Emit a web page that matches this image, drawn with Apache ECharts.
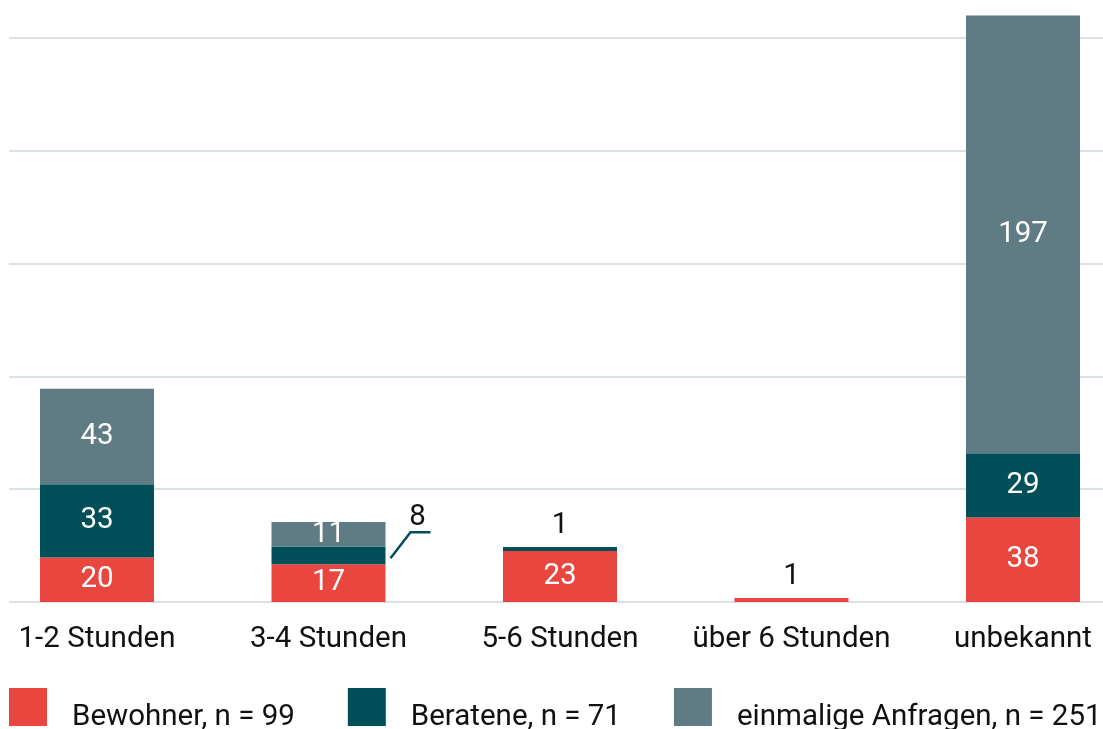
<!DOCTYPE html>
<html lang="de">
<head>
  <meta charset="UTF-8">
  <title>Stunden</title>
  <script src="https://cdn.jsdelivr.net/npm/echarts@6/dist/echarts.min.js"></script>
  <style>
    html, body { margin: 0; padding: 0; background: #fff; }
    #chart { width: 1103px; height: 729px; }
  </style>
</head>
<body>
  <div id="chart"></div>
  <script>
    // Daten
    const categories = ['1-2 Stunden', '3-4 Stunden', '5-6 Stunden', 'über 6 Stunden', 'unbekannt'];
    const bewohner = [20, 17, 23, 1, 38];
    const beratene = [33, 8, 1, 0, 29];
    const anfragen = [43, 11, 0, 0, 197];

    const sum = arr => arr.reduce((a, b) => a + b, 0);
    const names = [
      'Bewohner, n = ' + sum(bewohner),
      'Beratene, n = ' + sum(beratene),
      'einmalige Anfragen, n = ' + sum(anfragen)
    ];
    const colors = ['#e94640', '#004f59', '#5f7c85'];
    const FS = 29.5;

    // Labels ausserhalb der Balken
    const topLabel = { position: 'top', color: '#111', distance: 6 };
    const leaderLabel = { position: 'inside', color: '#111', offset: [89, -38] };

    function makeData(values, special) {
      return values.map((v, i) => {
        if (!v) return '-';
        const item = { value: v };
        if (special[i]) item.label = special[i];
        return item;
      });
    }

    const chart = echarts.init(document.getElementById('chart'));

    const barSeries = (name, values, special, color) => ({
      name: name,
      type: 'bar',
      stack: 'total',
      xAxisIndex: 0,
      yAxisIndex: 0,
      barWidth: 114,
      barMinHeight: 4,
      itemStyle: { color: color },
      label: {
        show: true,
        position: 'inside',
        color: '#fff',
        fontSize: FS,
        fontFamily: 'Roboto'
      },
      emphasis: { disabled: true },
      data: makeData(values, special)
    });

    chart.setOption({
      animation: false,
      textStyle: { fontFamily: 'Roboto' },
      grid: [
        { left: -18.75, width: 1157.5, top: 0, bottom: 127, outerBoundsMode: 'none', containLabel: false },
        { left: 9, right: 0, top: 38, bottom: 127, outerBoundsMode: 'none' }
      ],
      xAxis: [
        {
          type: 'category',
          gridIndex: 0,
          data: categories,
          axisLine: { show: false },
          axisTick: { show: false },
          axisLabel: { color: '#111', fontSize: FS, margin: 23, interval: 0 }
        },
        { type: 'value', gridIndex: 1, min: 0, max: 1, show: false }
      ],
      yAxis: [
        { type: 'value', gridIndex: 0, min: 0, max: 271, show: false },
        {
          type: 'value',
          gridIndex: 1,
          min: 0,
          max: 255,
          interval: 51,
          axisLine: { show: false },
          axisTick: { show: false },
          axisLabel: { show: false },
          splitLine: { lineStyle: { color: '#dbe1e6', width: 2 } }
        }
      ],
      legend: {
        data: names,
        left: 9,
        top: 688,
        padding: 0,
        itemGap: 53,
        icon: 'rect',
        itemWidth: 38,
        itemHeight: 38,
        selectedMode: false,
        formatter: name => '{t|' + name + '}',
        textStyle: {
          color: '#111',
          fontSize: FS,
          rich: { t: { color: '#111', fontSize: FS, padding: [21, 0, 0, 20] } }
        }
      },
      series: [
        barSeries(names[0], bewohner, { 3: topLabel }, colors[0]),
        barSeries(names[1], beratene, { 1: leaderLabel, 2: topLabel }, colors[1]),
        barSeries(names[2], anfragen, {}, colors[2])
      ]
    });

    // Hinweislinie zum Wert 8
    const p = chart.convertToPixel({ xAxisIndex: 0, yAxisIndex: 0 },
      [categories[1], bewohner[1] + beratene[1] / 2]);
    chart.setOption({
      graphic: [{
        type: 'polyline',
        shape: { points: [[p[0] + 62, p[1] + 3], [p[0] + 82, p[1] - 23], [p[0] + 102, p[1] - 23]] },
        style: { stroke: colors[1], lineWidth: 2.5, fill: null }
      }]
    });
  </script>
</body>
</html>
